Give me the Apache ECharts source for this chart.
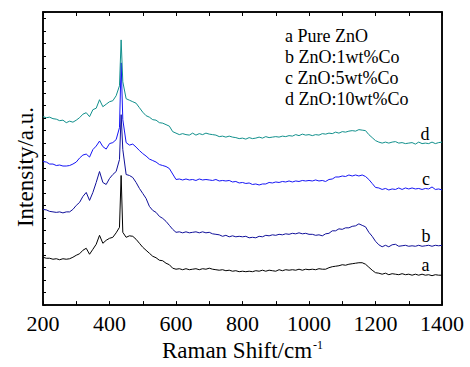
<!DOCTYPE html>
<html>
<head>
<meta charset="utf-8">
<script src="https://cdn.jsdelivr.net/npm/echarts@6/dist/echarts.min.js"></script>
<style>
html,body{margin:0;padding:0;background:#fff;}
#main{width:470px;height:367px;}
</style>
</head>
<body>
<div id="main"></div>
<script>
// Raman shift (cm-1)
var shift = [
  200,210,220,230,240,250,260,270,280,290,
  300,310,320,330,340,350,360,370,380,390,
  400,410,420,430,435,440,450,460,470,480,
  490,500,510,520,530,540,550,560,570,580,
  590,600,610,620,630,640,650,660,670,680,
  690,700,710,720,730,740,750,760,770,780,
  790,800,810,820,830,840,850,860,870,880,
  890,900,910,920,930,940,950,960,970,980,
  990,1000,1010,1020,1030,1040,1050,1060,1070,1080,
  1090,1100,1110,1120,1130,1140,1150,1160,1170,1180,
  1190,1200,1210,1220,1230,1240,1250,1260,1270,1280,
  1290,1300,1310,1320,1330,1340,1350,1360,1370,1380,
  1390,1400
];
// a Pure ZnO
var curveA = [
  48,47,47,46,46.5,45.5,46.5,46,46.5,48,
  50,51.5,55,57,51,56,61,70,62,65,
  67,68,72.5,78,130,73,68,69.5,69,66,
  62,58,55,52,49,47.5,45,44.5,42,40.5,
  37,36,36.5,35.5,36.5,35.5,36,36.5,35.5,36.5,
  36,37,36,35.5,35,35.5,34.5,35,34,34.5,
  33.5,34,33.5,34,33.5,34.5,34,35,34,35,
  34.5,34,35.5,34.5,35.5,35,35.5,35,36,35,
  36,35.5,36,35.5,36.5,36,36,37.5,38.5,39,
  39.5,40.5,40,41,41.5,42,42.5,42.5,41,38,
  35,32.5,32,31,32,30.5,31.5,31,30.5,31.5,
  30.5,31,30,31,30,31,30,30.5,29.5,30.5,
  30,30
];
// b ZnO:1wt%Co
var curveB = [
  96,95.5,94,93.5,93,93.5,92.5,93.5,93.5,96,
  100,103,109,113,105,113,123,134,123,121,
  127,131,134,146,191,156,131,130,128,123,
  117,112,107,99,95,93,89,87,84,80,
  76,73,73.5,72.5,73.5,72.5,73,73.5,72.5,73.5,
  72.5,73,71.5,71,70.5,69,70,68.5,69.5,68.5,
  69,68.5,69,67.5,68,67.5,69,68.5,70,69.5,
  70.5,70,71,70.5,71.5,71,72,71.5,72.5,71.5,
  72,71,71,70,70.5,69.5,71.5,72,74.5,74.5,
  76.5,76,77.5,77.5,79,79.5,81.5,80,78.5,73,
  69,64,60.5,58.5,60,58.5,60.5,61,59,59.5,
  60,59,59.5,59,60,59,59.5,60,59,60,
  59.5,60
];
// c ZnO:5wt%Co
var curveC = [
  144,143.5,141.5,141.5,140,140.5,139.5,139.5,140,141.5,
  143.5,147.5,150.5,151.5,148.5,156,159.5,164.5,159,156.5,
  162,163,166,178,243,186,163,160.5,161.5,158.5,
  155,152,149.5,146.5,145,143.5,141,140,139,137,
  131.5,126,126.5,125.5,126.5,125.5,126,125,126.5,125.5,
  126,125.5,125,126,124.5,125,124.5,125,123.5,124,
  122.5,123,122,122.5,121,121.5,120.5,121.5,121.5,123,
  122.5,123.5,123,124,123.5,124.5,123.5,124.5,124,125,
  124.5,125,124.5,125.5,124.5,125,124,126,126.5,128.5,
  128.5,129.5,129,130.5,129.5,130.5,129.5,130.5,129,126,
  122,118,117.5,116,117,115.5,116.5,116,117.5,116,
  117.5,116.5,117.5,116.5,117,116,117,116.5,118.5,116,
  116.5,115.5
];
// d ZnO:10wt%Co
var curveD = [
  189,188,188.5,187,186.5,185,185.5,183,184.5,183.5,
  185.5,188,191.5,193,189,196,197.5,206,199,201.5,
  204,205,210,220,266,224,207,205.5,204,202.5,
  198,193.5,190,188.5,186,185.5,183,182.5,181,179.5,
  174,172.5,171,172,171,170.5,172.5,170.5,172,171,
  172.5,171.5,171,170.5,169,169.5,168.5,169.5,168.5,168,
  167,167.5,166.5,168,167,167.5,168.5,167.5,169,168,
  168.5,169,168.5,169.5,169,170,169.5,171,170,171.5,
  170.5,171,170,171,170.5,172,171.5,172.5,172,173.5,
  172.5,174,173.5,174.5,175,174.5,176,175.5,175,171,
  168,165,163.5,162.5,163.5,162.5,163.5,164,162.5,163,
  162,162.5,163,161.5,163.5,162,162.5,162,163.5,162,
  163,163.5
];
var names = ['a', 'b', 'c', 'd'];
var legendLines = ['a Pure ZnO', 'b ZnO:1wt%Co', 'c ZnO:5wt%Co', 'd ZnO:10wt%Co'];
var colors = ['#000000', '#10109a', '#1515f5', '#11908c'];
// where the letter tags sit (shift, intensity)
var tagShift = [1350, 1352, 1352, 1349];
var tagValue = [40, 69, 126, 172];

var curves = [curveA, curveB, curveC, curveD];
var font = 'Liberation Serif';

var myChart = echarts.init(document.getElementById('main'), null, {renderer: 'svg'});

var series = [];
for (var i = 0; i < curves.length; i++) {
    var pts = [];
    for (var j = 0; j < shift.length; j++) {
        pts.push([shift[j], curves[i][j]]);
    }
    series.push({
        name: names[i],
        type: 'line',
        data: pts,
        showSymbol: false,
        symbol: 'none',
        lineStyle: {width: 1, color: colors[i]},
        itemStyle: {color: colors[i]},
        animation: false,
        markPoint: {
            symbol: 'circle',
            symbolSize: 0,
            label: {
                show: true,
                formatter: names[i],
                color: '#000',
                fontFamily: font,
                fontSize: 18
            },
            data: [{coord: [tagShift[i], tagValue[i]]}]
        }
    });
}

var frame = {color: '#000', width: 1.5};
var tick = {color: '#000', width: 1};

option = {
    animation: false,
    grid: {
        left: 43, right: 28, top: 12, bottom: 61,
        show: true, borderColor: '#000', borderWidth: 1.5
    },
    title: {
        text: legendLines.join('\n'),
        left: 280,
        top: 20,
        textStyle: {
            fontFamily: font,
            fontSize: 18,
            fontWeight: 'normal',
            color: '#000',
            lineHeight: 21
        }
    },
    xAxis: [{
        type: 'value',
        min: 200,
        max: 1400,
        interval: 200,
        name: 'Raman Shift/cm{sup|-1}',
        nameLocation: 'middle',
        nameGap: 30,
        nameTextStyle: {
            fontFamily: font,
            fontSize: 23,
            color: '#000',
            rich: {
                sup: {fontFamily: font, fontSize: 12, color: '#000', verticalAlign: 'top', padding: [0, 0, 10, 1]}
            }
        },
        axisLine: {show: true, onZero: false, lineStyle: frame},
        axisTick: {show: true, inside: true, length: 4, lineStyle: tick},
        minorTick: {show: true, splitNumber: 2, length: 4, lineStyle: tick},
        axisLabel: {
            fontFamily: font, fontSize: 22, color: '#000', margin: 7,
            formatter: function (v) { return String(v); }
        },
        splitLine: {show: false}
    }, {
        type: 'value',
        position: 'top',
        min: 200,
        max: 1400,
        interval: 200,
        axisLine: {show: true, onZero: false, lineStyle: frame},
        axisTick: {show: true, inside: true, length: 4, lineStyle: tick},
        minorTick: {show: true, splitNumber: 2, length: 4, lineStyle: tick},
        axisLabel: {show: false},
        splitLine: {show: false}
    }],
    yAxis: [{
        type: 'value',
        min: 0,
        max: 294,
        interval: 25,
        axisLine: {show: true, onZero: false, lineStyle: frame},
        axisTick: {show: true, inside: true, length: 3, lineStyle: tick},
        minorTick: {show: true, splitNumber: 2, length: 3, lineStyle: tick},
        axisLabel: {show: false},
        splitLine: {show: false}
    }, {
        type: 'value',
        position: 'right',
        min: 0,
        max: 294,
        axisLine: {show: true, onZero: false, lineStyle: frame},
        axisTick: {show: false},
        axisLabel: {show: false},
        splitLine: {show: false}
    }],
    graphic: [{
        type: 'text',
        x: 25,
        y: 167,
        rotation: Math.PI / 2,
        style: {
            text: 'Intensity/a.u.',
            fontFamily: font,
            fontSize: 23,
            fill: '#000',
            textAlign: 'center',
            textVerticalAlign: 'middle'
        }
    }],
    series: series
};
myChart.setOption(option);
</script>
</body>
</html>
